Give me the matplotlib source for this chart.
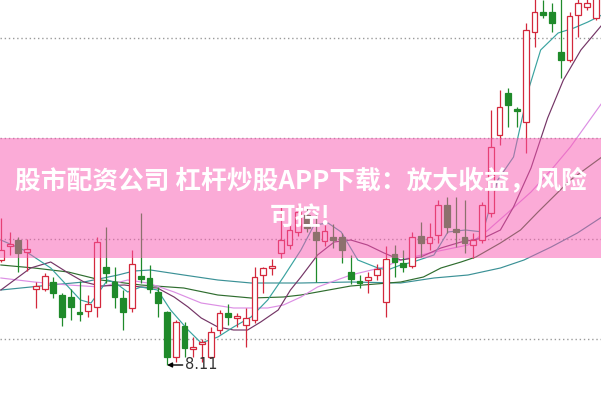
import matplotlib
matplotlib.use('Agg')
import numpy as np
import matplotlib.pyplot as plt
from matplotlib.patches import Rectangle

# daily candles
opens = [9.16, 9.30, 9.36, 9.24, 8.87, 8.87, 8.94, 8.81, 8.79, 8.64,
         8.65, 8.69, 9.09, 8.94, 8.78, 8.68, 9.00, 8.98, 8.84, 8.64,
         8.19, 8.50, 8.27, 8.32, 8.19, 8.46, 8.63, 8.58, 8.51, 8.56,
         9.01, 9.08, 9.23, 9.31, 9.44, 9.61, 9.44, 9.35, 9.39, 9.39,
         9.04, 8.95, 8.96, 9.01, 8.74, 9.22, 9.13, 9.10, 9.40, 9.33,
         9.41, 9.71, 9.47, 9.39, 9.31, 9.36, 9.63, 10.41, 10.83, 10.67,
         10.54, 11.44, 11.64, 11.64, 11.24, 11.16, 11.61, 11.69, 11.58]
highs = [9.58, 9.44, 9.39, 9.37, 8.94, 9.03, 8.99, 8.83, 8.87, 8.95,
         8.81, 9.39, 9.49, 9.09, 8.86, 9.26, 9.63, 9.11, 8.89, 8.65,
         8.56, 8.54, 8.39, 8.37, 8.49, 8.66, 8.72, 8.63, 8.68, 9.09,
         9.09, 9.17, 9.71, 9.70, 9.71, 9.68, 9.63, 9.51, 9.52, 9.43,
         9.21, 9.01, 9.04, 9.12, 9.30, 9.31, 9.26, 9.44, 9.54, 9.53,
         9.76, 9.79, 9.79, 9.76, 9.43, 9.74, 10.66, 10.86, 10.88, 10.69,
         11.53, 11.81, 11.76, 11.73, 11.81, 11.64, 11.81, 11.81, 11.84]
lows = [9.14, 9.21, 9.04, 9.05, 8.68, 8.85, 8.78, 8.50, 8.56, 8.55,
        8.59, 8.59, 8.93, 8.68, 8.46, 8.64, 8.93, 8.83, 8.59, 8.11,
        8.14, 8.19, 8.19, 8.14, 8.18, 8.42, 8.51, 8.49, 8.29, 8.53,
        8.83, 9.01, 9.18, 9.27, 9.40, 9.44, 8.94, 9.30, 9.28, 9.13,
        8.92, 8.88, 8.83, 8.96, 8.59, 8.99, 9.04, 9.08, 9.19, 9.26,
        9.33, 9.43, 9.29, 9.23, 9.18, 9.33, 9.59, 10.31, 10.49, 10.49,
        10.23, 11.29, 11.58, 11.44, 10.98, 11.14, 11.39, 11.66, 11.56]
closes = [9.26, 9.32, 9.23, 9.27, 8.90, 9.00, 8.83, 8.59, 8.69, 8.62,
          8.72, 9.34, 9.03, 8.79, 8.64, 9.12, 8.97, 8.87, 8.73, 8.19,
          8.54, 8.28, 8.29, 8.34, 8.44, 8.63, 8.59, 8.60, 8.58, 8.99,
          9.08, 9.10, 9.36, 9.46, 9.64, 9.48, 9.36, 9.45, 9.36, 9.26,
          8.97, 8.93, 8.99, 9.07, 9.17, 9.14, 9.09, 9.39, 9.33, 9.39,
          9.71, 9.49, 9.44, 9.33, 9.36, 9.71, 10.29, 10.69, 10.71, 10.65,
          11.46, 11.64, 11.61, 11.53, 11.16, 11.60, 11.73, 11.73, 11.78]

# moving average lines, traced as (day, price) points
ma5_x = [0, 2.6, 5.7, 9.1, 10.3, 12.2, 13.1, 14.5, 16.0, 17.9, 19.4, 21.4, 22.9,
         24.8, 26.6, 28.6, 30.5, 32.3, 34.3, 35.8, 37.4, 38.9, 40.8, 43.1, 44.2,
         45.7, 47.1, 49.5, 51.1, 53.1, 55.1, 56.8, 58.6, 60.3, 61.7, 63.7, 65.5,
         67.1, 68.7]
ma5_y = [9.36, 9.26, 9.08, 8.76, 8.73, 8.96, 8.93, 8.84, 8.89, 8.86, 8.66, 8.46,
         8.33, 8.39, 8.49, 8.59, 8.76, 8.99, 9.26, 9.51, 9.53, 9.44, 9.16, 9.08,
         9.06, 9.11, 9.14, 9.21, 9.44, 9.46, 9.44, 9.96, 10.19, 10.86, 11.26,
         11.43, 11.48, 11.54, 11.61]
ma10_x = [0, 3.4, 5.7, 7.7, 9.5, 11.4, 14.1, 16.0, 17.9, 19.8, 21.4, 22.9, 24.8,
          26.6, 28.2, 29.7, 31.7, 33.1, 34.3, 36.2, 38.1, 40.0, 41.9, 43.8, 45.7,
          48.0, 50.3, 52.6, 55.2, 57.1, 58.6, 60.6, 62.5, 64.3, 66.3, 68.7]
ma10_y = [8.86, 9.08, 9.14, 9.03, 8.94, 8.90, 8.91, 8.89, 8.88, 8.79, 8.69, 8.58,
          8.49, 8.46, 8.46, 8.54, 8.66, 8.86, 8.99, 9.21, 9.34, 9.36, 9.31, 9.23,
          9.16, 9.19, 9.28, 9.34, 9.38, 9.46, 9.69, 10.08, 10.58, 10.96, 11.26,
          11.51]
ma20_x = [0, 3.8, 7.7, 11.4, 14.5, 16.8, 19.8, 22.9, 26.6, 30.5, 32.3, 34.3,
          36.2, 40.0, 43.8, 45.7, 49.5, 53.4, 55.7, 58.3, 60.6, 62.9, 65.1, 68.7]
ma20_y = [8.98, 8.94, 8.91, 8.89, 8.96, 8.93, 8.84, 8.73, 8.68, 8.68, 8.71, 8.79,
          8.89, 9.01, 9.09, 9.16, 9.24, 9.31, 9.46, 9.66, 9.84, 10.06, 10.29, 10.73]
ma30_x = [0, 3.8, 7.7, 11.4, 16.0, 20.9, 24.8, 28.6, 32.3, 34.3, 40.0, 45.7,
          48.3, 50.3, 52.6, 54.3, 57.1, 59.4, 61.4, 65.1, 68.7]
ma30_y = [9.11, 9.08, 9.04, 8.96, 8.91, 8.88, 8.81, 8.78, 8.79, 8.81, 8.90, 8.94,
          8.99, 9.08, 9.14, 9.19, 9.33, 9.46, 9.64, 9.96, 10.19]
ma60_x = [0, 5.7, 9.5, 13.4, 15.2, 17.1, 20.9, 24.8, 28.6, 34.3, 40.0, 45.7,
          49.5, 53.4, 57.1, 59.8, 62.9, 65.9, 68.7]
ma60_y = [8.86, 8.91, 8.94, 9.01, 9.05, 9.06, 9.01, 8.96, 8.93, 8.93, 8.94, 8.93,
          8.98, 9.01, 9.08, 9.16, 9.29, 9.43, 9.59]

grid_levels = [8.37, 9.37, 10.38, 11.38]
low_label = '8.11'
banner_line1 = '股市配资公司 杠杆炒股APP下载：放大收益，风险'
banner_line2 = '可控!'

RED = '#d3283c'
GREEN = '#1f8a2a'

fig = plt.figure(figsize=(6.01, 3.99), dpi=100)
ax = fig.add_axes([0, 0, 1, 1])
ax.set_xlim(-0.1, 68.6)
ax.set_ylim(7.77, 11.76)
ax.axis('off')

for g in grid_levels:
    ax.axhline(g, color='#9a9a9a', lw=1, ls=(0, (1, 2)), zorder=0)

o = np.array(opens)
c = np.array(closes)
h = np.array(highs)
l = np.array(lows)
x = np.arange(len(o))
up = c >= o

# wicks
ax.vlines(x[up], l[up], h[up], color=RED, lw=0.9, zorder=2)
ax.vlines(x[~up], l[~up], h[~up], color=GREEN, lw=0.9, zorder=2)

# bodies: hollow red, filled green
body = np.maximum(np.abs(c - o), 0.012)
bottom = np.minimum(o, c)
ax.bar(x[up], body[up], bottom=bottom[up], width=0.66, facecolor='white',
       edgecolor=RED, lw=0.9, zorder=3)
ax.bar(x[~up], body[~up], bottom=bottom[~up], width=0.66, facecolor=GREEN,
       edgecolor=GREEN, lw=0.9, zorder=3)

# moving averages
ax.plot(ma60_x, ma60_y, color='#3b9196', lw=0.85, zorder=1)
ax.plot(ma30_x, ma30_y, color='#2f6d2f', lw=0.85, zorder=1)
ax.plot(ma20_x, ma20_y, color='#dc8fe4', lw=0.85, zorder=1)
ax.plot(ma10_x, ma10_y, color='#743566', lw=0.85, zorder=1)
ax.plot(ma5_x, ma5_y, color='#3aa3a0', lw=0.85, zorder=1)

# lowest-price marker
i_low = int(np.argmin(l))
ax.annotate(low_label, xy=(x[i_low], l[i_low]), xytext=(x[i_low] + 2.1, l[i_low]),
            va='center', ha='left', fontsize=10.5, color='#333333',
            arrowprops=dict(arrowstyle='-|>', color='black', lw=1,
                            mutation_scale=7, shrinkA=0, shrinkB=0))

# pink banner overlay
fig.add_artist(Rectangle((0, 1 - 258 / 399), 1, 120 / 399, transform=fig.transFigure,
                         facecolor='#f959b1', alpha=0.5, edgecolor='none', zorder=5))
fig.text(0.5, 1 - 181 / 399, banner_line1, ha='center', va='center', color='white',
         fontsize=18.5, fontweight='bold', family=['Noto Sans CJK SC', 'DejaVu Sans'],
         zorder=6)
fig.text(0.5, 1 - 217 / 399, banner_line2, ha='center', va='center', color='white',
         fontsize=18.5, fontweight='bold', family=['Noto Sans CJK SC', 'DejaVu Sans'],
         zorder=6)

fig.savefig('out.png', dpi=100)
